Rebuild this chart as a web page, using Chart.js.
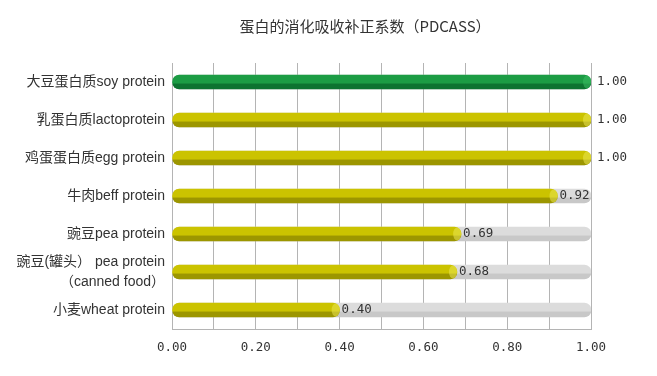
<!DOCTYPE html>
<html>
<head>
<meta charset="utf-8">
<script src="https://cdn.jsdelivr.net/npm/chart.js@4/dist/chart.umd.min.js"></script>
<style>
  html, body { margin: 0; padding: 0; background: #fff; }
  #wrap { width: 657px; height: 376px; position: relative; }
</style>
</head>
<body>
<div id="wrap"><canvas id="pdcaasChart"></canvas></div>
<script>
// 蛋白的消化吸收补正系数 (PDCASS)
const chartTitle = '蛋白的消化吸收补正系数（PDCASS）';
const categories = [
  '大豆蛋白质soy protein',
  '乳蛋白质lactoprotein',
  '鸡蛋蛋白质egg protein',
  '牛肉beff protein',
  '豌豆pea protein',
  ['豌豆(罐头） pea protein', '（canned food）'],
  '小麦wheat protein'
];
const scores = [1.00, 1.00, 1.00, 0.92, 0.69, 0.68, 0.40];
const maxScore = [1, 1, 1, 1, 1, 1, 1];   // grey background track

const barHalf = 7;

// cylinder-like shading: lighter top, darker bottom band
function shade(light, dark) {
  return function(context) {
    const chart = context.chart;
    const yScale = chart.scales.y;
    if (!yScale || context.dataIndex === undefined) return light;
    const cy = yScale.getPixelForValue(context.dataIndex);
    if (!isFinite(cy)) return light;
    const g = chart.ctx.createLinearGradient(0, cy - barHalf, 0, cy + barHalf);
    g.addColorStop(0, light);
    g.addColorStop(0.58, light);
    g.addColorStop(0.64, dark);
    g.addColorStop(1, dark);
    return g;
  };
}

const greenShade = shade('#1c9c44', '#0d7330');
const yellowShade = shade('#cbc300', '#9c9600');
const greyShade = shade('#dcdcdc', '#c8c8c8');

const valueLabels = {
  id: 'valueLabels',
  afterDatasetsDraw(chart) {
    const c = chart.ctx;
    const meta = chart.getDatasetMeta(1);
    c.save();
    // end caps
    meta.data.forEach(function(bar, i) {
      c.fillStyle = i === 0 ? 'rgba(60,190,100,0.55)' : 'rgba(235,230,80,0.55)';
      c.beginPath();
      c.ellipse(bar.x - 4, bar.y, 4, barHalf - 0.5, 0, 0, Math.PI * 2);
      c.fill();
    });
    c.font = '12.5px "DejaVu Sans Mono"';
    c.fillStyle = '#333';
    c.textBaseline = 'middle';
    c.textAlign = 'left';
    meta.data.forEach(function(bar, i) {
      const dx = scores[i] >= 1 ? 6 : 2;
      c.fillText(scores[i].toFixed(2), bar.x + dx, bar.y);
    });
    c.restore();
  },
  afterDraw(chart) {
    const c = chart.ctx;
    c.save();
    c.font = '15px "Noto Sans CJK SC"';
    c.fillStyle = '#333';
    c.textAlign = 'center';
    c.textBaseline = 'middle';
    c.fillText(chartTitle, 365, 26);
    c.restore();
  }
};

const ctx = document.getElementById('pdcaasChart').getContext('2d');
const pdcaasChart = new Chart(ctx, {
  type: 'bar',
  data: {
    labels: categories,
    datasets: [
      {
        label: 'track',
        data: maxScore,
        backgroundColor: greyShade,
        barThickness: 14,
        borderRadius: 7,
        borderSkipped: false,
        grouped: false,
        order: 2
      },
      {
        label: 'PDCAAS',
        data: scores,
        backgroundColor: function(context) {
          return context.dataIndex === 0 ? greenShade(context) : yellowShade(context);
        },
        barThickness: 14,
        borderRadius: 7,
        borderSkipped: false,
        grouped: false,
        order: 1
      }
    ]
  },
  options: {
    indexAxis: 'y',
    responsive: true,
    maintainAspectRatio: false,
    animation: false,
    layout: {
      padding: { top: 63, right: 66, bottom: 17, left: 0 }
    },
    scales: {
      x: {
        min: 0,
        max: 1,
        afterFit: function(scale) { scale.height = 30; },
        grid: { color: '#b4b4b4', drawTicks: false },
        border: { color: '#b4b4b4' },
        ticks: {
          stepSize: 0.1,
          autoSkip: false,
          maxRotation: 0,
          padding: 11,
          color: '#333',
          font: { family: '"DejaVu Sans Mono"', size: 12.5 },
          callback: function(value, index) {
            return index % 2 === 0 ? value.toFixed(2) : '';
          }
        }
      },
      y: {
        afterFit: function(scale) { scale.width = 172; },
        grid: { display: false, drawTicks: false },
        border: { color: '#b4b4b4' },
        ticks: {
          autoSkip: false,
          padding: 7,
          color: '#333',
          font: { family: '"Liberation Sans", "Noto Sans CJK SC"', size: 14, lineHeight: 1.4 }
        }
      }
    },
    plugins: {
      legend: { display: false },
      tooltip: { enabled: false }
    }
  },
  plugins: [valueLabels]
});
</script>
</body>
</html>
